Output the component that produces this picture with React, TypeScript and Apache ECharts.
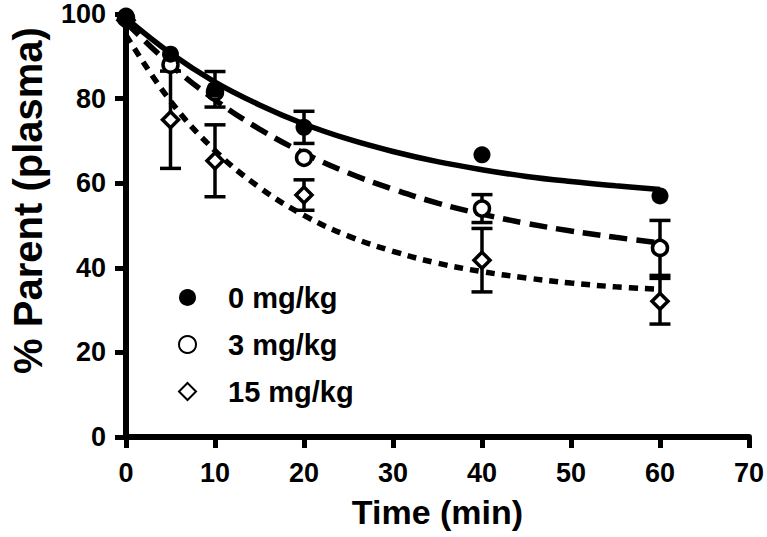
import React, { useEffect, useRef } from "react";
import * as echarts from "echarts";

// Observed time points (min)
const times = [0, 5, 10, 20, 40, 60];

// % parent in plasma, mean and error (SEM) per dose
const mean0 = [99.5, 90.5, 82.2, 73.2, 66.7, 57];
const err0 = [0, 0, 4.2, 3.8, 0, 0];
const mean3 = [99, 88, 81.5, 66, 54, 44.7];
const err3 = [0, 0, 0, 0, 3.3, 6.5];
const mean15 = [98.5, 75, 65.3, 57.2, 41.8, 32.1];
const err15 = [0, 11.5, 8.5, 3.6, 7.5, 5.4];

// Fitted curves at 5-min steps
const fitTimes = [0, 5, 10, 15, 20, 25, 30, 35, 40, 45, 50, 55, 60];
const fit0 = [99, 90.7, 83.9, 78.5, 74, 70.4, 67.5, 65.1, 63.2, 61.6, 60.4, 59.4, 58.5];
const fit3 = [98, 88, 79.7, 72.8, 67.1, 62.4, 58.6, 55.3, 52.7, 50.5, 48.7, 47.2, 45.9];
const fit15 = [95, 79.4, 67.7, 59, 52.4, 47.5, 43.9, 41.1, 39.1, 37.6, 36.4, 35.5, 34.9];

const seriesNames = ["0 mg/kg", "3 mg/kg", "15 mg/kg"];

const FONT = '"Liberation Sans", Arial, Helvetica, sans-serif';

export default function App() {
  const ref = useRef<HTMLDivElement>(null);

  useEffect(() => {
    const chart = echarts.init(ref.current!, null, { renderer: "svg" });

    const pts = (m: number[]) => times.map((t, i) => [t, m[i]]);
    const bars = (m: number[], e: number[]) =>
      times
        .map((t, i) => (e[i] > 0 ? [t, m[i] - e[i], m[i] + e[i]] : null))
        .filter((d) => d !== null);
    const curve = (f: number[]) => fitTimes.map((t, i) => [t, f[i]]);

    const errorSeries = (m: number[], e: number[]) => ({
      type: "custom",
      silent: true,
      z: 2,
      encode: { x: 0, y: [1, 2] },
      data: bars(m, e),
      renderItem: (params: any, api: any) => {
        const x = api.value(0);
        const lo = api.coord([x, api.value(1)]);
        const hi = api.coord([x, api.value(2)]);
        const hw = 10.5;
        const style = { stroke: "#000", lineWidth: 3.5 };
        return {
          type: "group",
          children: [
            { type: "line", shape: { x1: lo[0], y1: lo[1], x2: hi[0], y2: hi[1] }, style },
            { type: "line", shape: { x1: lo[0] - hw, y1: lo[1], x2: lo[0] + hw, y2: lo[1] }, style },
            { type: "line", shape: { x1: hi[0] - hw, y1: hi[1], x2: hi[0] + hw, y2: hi[1] }, style },
          ],
        };
      },
    });

    const lineSeries = (f: number[], type: any) => ({
      type: "line",
      data: curve(f),
      smooth: 0.4,
      showSymbol: false,
      silent: true,
      z: 3,
      lineStyle: { color: "#000", width: 5.5, type },
    });

    const option: any = {
      animation: false,
      backgroundColor: "#fff",
      textStyle: { fontFamily: FONT },
      grid: { left: 113, right: 13, top: 14, bottom: 100, containLabel: false },
      legend: {
        orient: "vertical",
        left: 173,
        top: 278,
        itemWidth: 17,
        itemHeight: 17,
        itemGap: 18,
        selectedMode: false,
        data: [
          { name: seriesNames[0], icon: "circle" },
          { name: seriesNames[1], icon: "circle" },
          { name: seriesNames[2], icon: "diamond" },
        ],
        textStyle: {
          fontFamily: FONT,
          fontSize: 29,
          fontWeight: "bold",
          color: "#000",
          padding: [0, 0, 0, 27],
        },
      },
      xAxis: {
        type: "value",
        min: 0,
        max: 70,
        interval: 10,
        name: "Time (min)",
        nameLocation: "middle",
        nameGap: 58,
        nameTextStyle: { fontFamily: FONT, fontSize: 34, fontWeight: "bold", color: "#000" },
        axisLine: { show: true, lineStyle: { color: "#000", width: 6 } },
        axisTick: { show: true, length: 11, lineStyle: { color: "#000", width: 5 } },
        axisLabel: { fontFamily: FONT, fontSize: 27, fontWeight: "bold", color: "#000", margin: 22 },
        splitLine: { show: false },
      },
      yAxis: {
        type: "value",
        min: 0,
        max: 100,
        interval: 20,
        name: "% Parent (plasma)",
        nameLocation: "middle",
        nameGap: 78,
        nameTextStyle: {
          fontFamily: FONT,
          fontSize: 40,
          fontWeight: "bold",
          color: "#000",
          padding: [0, 0, 0, 50],
        },
        axisLine: { show: true, lineStyle: { color: "#000", width: 6 } },
        axisTick: { show: true, length: 11, lineStyle: { color: "#000", width: 5 } },
        axisLabel: { fontFamily: FONT, fontSize: 27, fontWeight: "bold", color: "#000", margin: 20 },
        splitLine: { show: false },
      },
      series: [
        errorSeries(mean0, err0),
        errorSeries(mean3, err3),
        errorSeries(mean15, err15),
        lineSeries(fit0, "solid"),
        lineSeries(fit3, [18, 9]),
        lineSeries(fit15, [9, 7]),
        {
          name: seriesNames[2],
          type: "scatter",
          data: pts(mean15),
          symbol: "diamond",
          symbolSize: 16,
          z: 4,
          itemStyle: { color: "#fff", borderColor: "#000", borderWidth: 3.5, opacity: 1 },
        },
        {
          name: seriesNames[1],
          type: "scatter",
          data: pts(mean3),
          symbol: "circle",
          symbolSize: 15,
          z: 5,
          itemStyle: { color: "#fff", borderColor: "#000", borderWidth: 3.5, opacity: 1 },
        },
        {
          name: seriesNames[0],
          type: "scatter",
          data: pts(mean0),
          symbol: "circle",
          symbolSize: 17,
          z: 6,
          itemStyle: { color: "#000", borderColor: "#000", borderWidth: 0, opacity: 1 },
        },
      ],
    };

    chart.setOption(option);
    return () => chart.dispose();
  }, []);

  return (
    <div
      ref={ref}
      style={{ position: "fixed", left: 0, top: 0, width: 767, height: 537, background: "#fff" }}
    />
  );
}
